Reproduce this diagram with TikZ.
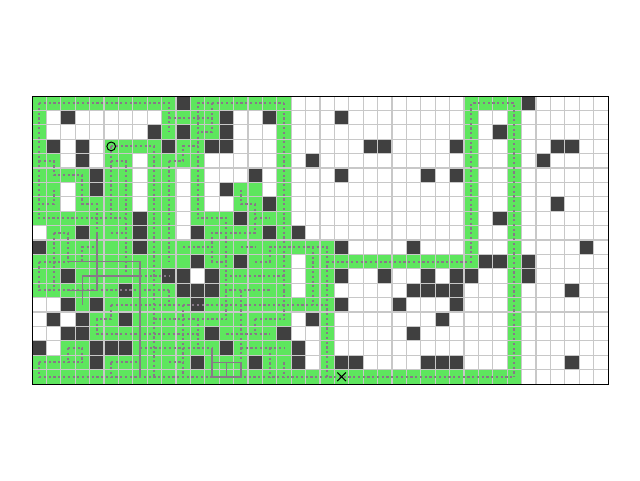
\documentclass[tikz,border=0pt]{standalone}
\usetikzlibrary{shapes.misc}
\definecolor{cgreen}{RGB}{94,230,94}
\definecolor{cdark}{RGB}{64,64,64}
\definecolor{cgrid}{RGB}{200,200,200}
\definecolor{cpath}{RGB}{136,120,136}
\begin{document}
\begin{tikzpicture}[x=0.5cm,y=-0.5cm,
  pth/.style={cpath, line width=1.9pt, dash pattern=on 2.2pt off 2.5pt},
  spth/.style={cpath, line width=1.6pt},
  gcell/.style={fill=cgreen},
  dcell/.style={fill=cdark},
  gline/.style={cgrid, line width=1.1pt}]
\useasboundingbox (-2.2222,-6.6667) rectangle (42.2222,26.6667);
\fill[white] (-2.2222,-6.6667) rectangle (42.2222,26.6667);
% green (visited) cells: row/first/last
\foreach \r/\a/\b in {
 0/0/9, 0/11/17, 0/30/33,
 1/0/0, 1/9/12, 1/17/17, 1/30/30, 1/33/33,
 2/0/0, 2/9/9, 2/11/12, 2/17/17, 2/30/30, 2/33/33,
 3/0/0, 3/5/8, 3/10/11, 3/17/17, 3/30/30, 3/33/33,
 4/0/1, 4/5/6, 4/8/11, 4/17/17, 4/30/30, 4/33/33,
 5/0/3, 5/5/6, 5/8/9, 5/11/11, 5/17/17, 5/30/30, 5/33/33,
 6/0/1, 6/3/3, 6/5/6, 6/8/9, 6/11/11, 6/14/15, 6/17/17, 6/30/30, 6/33/33,
 7/0/1, 7/3/6, 7/8/9, 7/11/11, 7/14/15, 7/17/17, 7/30/30, 7/33/33,
 8/0/6, 8/8/9, 8/11/13, 8/15/17, 8/30/30, 8/33/33,
 9/1/2, 9/4/6, 9/8/9, 9/12/15, 9/17/17, 9/30/30, 9/33/33,
 10/1/6, 10/8/20, 10/30/30, 10/33/33,
 11/0/10, 11/12/13, 11/15/17, 11/19/30, 11/33/33,
 12/0/1, 12/3/8, 12/13/17, 12/19/20, 12/33/33,
 13/0/5, 13/7/9, 13/13/17, 13/19/20, 13/33/33,
 14/3/3, 14/5/10, 14/12/20, 14/33/33,
 15/4/5, 15/7/17, 15/20/20, 15/33/33,
 16/4/11, 16/13/16, 16/20/20, 16/33/33,
 17/2/3, 17/7/12, 17/14/17, 17/20/20, 17/33/33,
 18/0/3, 18/5/10, 18/12/14, 18/16/17, 18/20/20, 18/33/33,
 19/0/33}
  \path[gcell] (\a,\r) rectangle (\b+1,\r+1);
% obstacle cells: column/row
\foreach \c/\r in {
 10/0, 34/0,
 2/1, 13/1, 16/1, 21/1,
 8/2, 10/2, 13/2, 32/2,
 1/3, 3/3, 9/3, 12/3, 13/3, 23/3, 24/3, 29/3, 36/3, 37/3,
 3/4, 19/4, 35/4,
 4/5, 15/5, 21/5, 27/5, 29/5,
 4/6, 13/6,
 16/7, 36/7,
 7/8, 14/8, 32/8,
 3/9, 7/9, 11/9, 16/9, 18/9,
 0/10, 7/10, 21/10, 26/10, 38/10,
 11/11, 14/11, 31/11, 32/11, 34/11,
 2/12, 9/12, 10/12, 12/12, 21/12, 24/12, 27/12, 29/12, 30/12, 34/12,
 6/13, 10/13, 11/13, 12/13, 26/13, 27/13, 28/13, 29/13, 37/13,
 2/14, 4/14, 11/14, 21/14, 25/14, 29/14,
 1/15, 3/15, 6/15, 19/15, 28/15,
 2/16, 3/16, 12/16, 17/16, 26/16,
 0/17, 4/17, 5/17, 6/17, 13/17, 18/17,
 4/18, 11/18, 15/18, 18/18, 21/18, 22/18, 27/18, 28/18, 29/18, 37/18}
  \path[dcell] (\c,\r) rectangle ++(1,1);
% grid lines
\foreach \i in {1,...,39} \draw[gline] (\i,0) -- (\i,20);
\foreach \j in {1,...,19} \draw[gline] (0,\j) -- (40,\j);
% search tree (cell centres)
\begin{scope}[shift={(0.5,0.5)}]
\draw[pth] (0,0) -- (9,0) -- (9,2);
\draw[pth] (0,0) -- (0,8) -- (6,8);
\draw[pth] (9,1) -- (12,1);
\draw[pth] (11,1) -- (11,0) -- (17,0);
\draw[pth] (12,0) -- (12,2) -- (11,2);
\draw[pth] (11,1) -- (11,8) -- (13,8) -- (13,13) -- (16,13);
\draw[pth] (17,0) -- (17,13);
\draw[pth] (5,3) -- (8,3) -- (8,19);
\draw[pth] (0,4) -- (1,4) -- (1,5) -- (3,5) -- (3,7) -- (4,7) -- (4,9);
\draw[pth] (1,6) -- (1,7) -- (0,7);
\draw[pth] (5,3) -- (5,8);
\draw[pth] (5,4) -- (6,4) -- (6,12);
\draw[pth] (9,4) -- (10,4) -- (10,3) -- (11,3);
\draw[pth] (9,4) -- (9,11);
\draw[pth] (1,9) -- (2,9) -- (2,11);
\draw[pth] (1,9) -- (1,13);
\draw[pth] (0,11) -- (2,11);
\draw[pth] (0,11) -- (0,13) -- (9,13);
\draw[pth] (3,11) -- (3,10) -- (4,10);
\draw[pth] (5,9) -- (6,9);
\draw[pth] (7,12) -- (9,12);
\draw[pth] (14,6) -- (14,7) -- (15,7) -- (15,9) -- (12,9) -- (12,11) -- (13,11) -- (13,12) -- (17,12);
\draw[pth] (15,8) -- (16,8);
\draw[pth] (10,10) -- (12,10);
\draw[pth] (14,10) -- (15,10);
\draw[pth] (15,11) -- (16,11) -- (16,10) -- (20,10) -- (20,19);
\draw[pth] (19,10) -- (19,14);
\draw[pth] (20,11) -- (30,11) -- (30,0) -- (33,0) -- (33,19);
\draw[pth] (0,19) -- (33,19);
\draw[pth] (5,14) -- (20,14);
\draw[pth] (5,14) -- (5,15) -- (4,15) -- (4,16) -- (11,16);
\draw[pth] (8,15) -- (13,15);
\draw[pth] (15,15) -- (17,15);
\draw[pth] (13,13) -- (13,15);
\draw[pth] (17,13) -- (17,15);
\draw[pth] (14,13) -- (14,19);
\draw[pth] (10,14) -- (10,19);
\draw[pth] (11,15) -- (11,17);
\draw[pth] (15,15) -- (15,16);
\draw[pth] (13,16) -- (16,16);
\draw[pth] (9,17) -- (12,17);
\draw[pth] (14,17) -- (17,17);
\draw[pth] (16,17) -- (16,19);
\draw[pth] (17,18) -- (17,19);
\draw[pth] (7,17) -- (9,17);
\draw[pth] (9,18) -- (10,18);
\draw[pth] (2,17) -- (3,17) -- (3,18);
\draw[pth] (2,17) -- (2,18);
\draw[pth] (0,18) -- (3,18);
\draw[pth] (0,18) -- (0,19);
\draw[pth] (5,18) -- (7,18);
\draw[pth] (5,18) -- (5,19);
\draw[pth] (9,13) -- (9,14);
\draw[spth] (7,13) -- (7,19);
\draw[spth] (2,11) -- (7,11) -- (7,13);
\draw[spth] (4,9) -- (4,13);
\draw[spth] (3,12) -- (7,12);
\draw[spth] (3,12) -- (3,14);
\draw[spth] (2,13) -- (4,13);
\draw[spth] (12,17) -- (12,19) -- (14,19) -- (14,18) -- (12,18);
\draw[spth] (13,18) -- (13,19);
\end{scope}
\draw[black, line width=0.9pt] (0,0) rectangle (40,20);
\node[draw=black, circle, line width=1pt, minimum size=8.6pt, inner sep=0pt] (start) at (5.5,3.5) {};
\node[draw=black, cross out, line width=1pt, minimum size=7.5pt, inner sep=0pt] (goal) at (21.5,19.5) {};
\end{tikzpicture}
\end{document}
